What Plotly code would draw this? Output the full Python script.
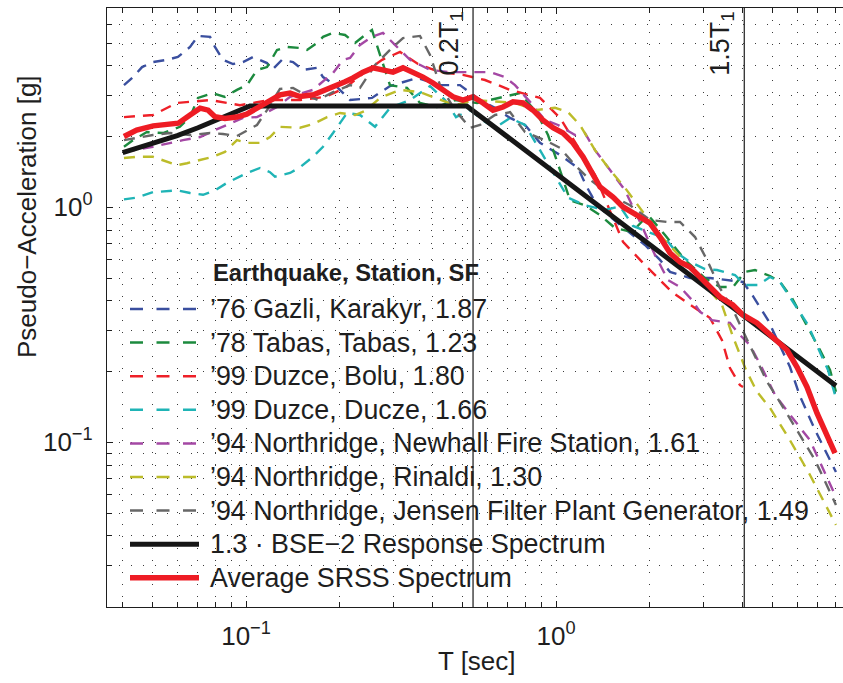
import math
import plotly.graph_objects as go

# ---- Ground-motion records: period T [s] and pseudo-acceleration [g] ----
gazli_T = [0.0404, 0.0432, 0.0462, 0.0501, 0.0556, 0.0603, 0.0660, 0.0700, 0.0766, 0.0794,
           0.0843, 0.0908, 0.0978, 0.1053, 0.1169, 0.1213, 0.1306, 0.1418, 0.1527, 0.1694,
           0.1772, 0.1937, 0.2166, 0.2549, 0.2914, 0.3561, 0.4224, 0.4901, 0.5687, 0.6356,
           0.7107, 0.7943, 0.888, 1.03, 1.178, 1.249, 1.356, 1.609, 1.937, 2.165,
           2.332, 2.706, 3.139, 3.641, 4.011, 4.320, 4.830, 5.686, 6.124, 6.847, 8.0]
gazli_sa = [3.31, 3.58, 3.95, 4.15, 4.24, 4.36, 4.81, 5.36, 5.31, 4.81,
            4.24, 4.07, 4.15, 4.36, 4.11, 3.84, 4.24, 4.15, 3.84, 3.92,
            3.58, 3.31, 2.86, 2.92, 3.28, 3.55, 3.31, 3.31, 2.86, 2.65,
            2.40, 2.24, 1.88, 1.67, 1.47, 1.24, 1.02, 0.841, 0.691, 0.597,
            0.531, 0.500, 0.500, 0.490, 0.481, 0.419, 0.331, 0.209, 0.157, 0.113, 0.0747]

tabas_T = [0.0404, 0.0432, 0.0479, 0.0540, 0.0612, 0.0660, 0.0700, 0.0782, 0.0855, 0.0935,
           0.1007, 0.1085, 0.1169, 0.1259, 0.1356, 0.1494, 0.1573, 0.1694, 0.1772, 0.1909,
           0.2087, 0.2248, 0.2420, 0.2549, 0.2706, 0.2914, 0.3306, 0.3641, 0.4131, 0.4723,
           0.5562, 0.6597, 0.7655, 0.8684, 0.9423, 1.03, 1.11, 1.24, 1.387, 1.55,
           1.759, 1.981, 2.247, 2.607, 3.024, 3.381, 3.724, 4.071, 4.385, 4.902,
           5.281, 5.771, 6.356, 7.106, 7.655, 8.0]
tabas_sa = [1.81, 1.93, 2.09, 2.07, 2.20, 2.42, 2.92, 3.06, 2.95, 3.16,
            3.31, 3.84, 3.95, 4.67, 4.81, 4.76, 4.67, 5.00, 5.31, 5.52,
            5.41, 5.00, 5.41, 5.68, 4.45, 3.31, 3.22, 2.78, 2.67, 2.86,
            2.78, 2.92, 3.06, 2.52, 2.03, 1.44, 1.07, 1.02, 0.927, 0.816,
            0.785, 0.927, 0.762, 0.597, 0.500, 0.458, 0.458, 0.531, 0.541, 0.510,
            0.481, 0.411, 0.325, 0.247, 0.203, 0.164]

bolu_T = [0.0404, 0.0501, 0.0599, 0.0645, 0.0766, 0.0956, 0.1195, 0.1494, 0.1799, 0.2087,
          0.2420, 0.2747, 0.3139, 0.3588, 0.4224, 0.5012, 0.5902, 0.7107, 0.888, 1.03,
          1.126, 1.336, 1.645, 1.937, 2.367, 2.747, 3.139, 3.431, 3.641, 3.922, 4.011]
bolu_sa = [2.42, 2.47, 2.78, 2.81, 2.86, 2.72, 2.86, 2.86, 2.95, 3.22,
           3.76, 4.24, 4.58, 4.07, 3.76, 3.66, 3.48, 3.16, 2.92, 2.40,
           1.99, 1.37, 0.712, 0.568, 0.436, 0.380, 0.338, 0.272, 0.207, 0.175, 0.172]

ducze_T = [0.0404, 0.0445, 0.0501, 0.0603, 0.0660, 0.0727, 0.0794, 0.0868, 0.1007, 0.111,
           0.1195, 0.124, 0.1387, 0.1494, 0.1645, 0.1772, 0.1909, 0.2118, 0.2332, 0.2607,
           0.2914, 0.3381, 0.3923, 0.4384, 0.4758, 0.528, 0.5902, 0.6356, 0.7107, 0.7943,
           0.888, 0.9563, 1.03, 1.093, 1.24, 1.439, 1.609, 1.772, 1.981, 2.247,
           2.457, 2.706, 3.024, 3.306, 3.779, 4.071, 4.484, 4.902, 5.281, 5.902,
           6.5, 7.001, 7.542, 8.0]
ducze_sa = [1.08, 1.10, 1.16, 1.18, 1.15, 1.13, 1.18, 1.27, 1.40, 1.47,
            1.41, 1.35, 1.40, 1.48, 1.64, 1.81, 2.07, 2.52, 2.47, 2.20,
            2.65, 2.86, 3.28, 2.86, 2.42, 2.59, 2.31, 2.18, 2.40, 2.24,
            1.75, 1.48, 1.24, 1.10, 1.02, 0.974, 1.01, 0.833, 0.785, 0.740,
            0.639, 0.585, 0.546, 0.541, 0.515, 0.467, 0.467, 0.505, 0.481, 0.384,
            0.316, 0.252, 0.203, 0.154]

newhall_T = [0.0404, 0.0501, 0.0626, 0.0711, 0.0794, 0.0888, 0.0978, 0.1085, 0.1169, 0.1259,
             0.1387, 0.1645, 0.1909, 0.2056, 0.2166, 0.2332, 0.2549, 0.2766, 0.3024, 0.3381,
             0.3923, 0.4549, 0.528, 0.6124, 0.6848, 0.7376, 0.8244, 0.9215, 1.015, 1.152,
             1.24, 1.336, 1.494, 1.67, 1.866, 2.086, 2.298, 2.512, 2.747, 2.914,
             3.186, 3.641, 3.922, 4.225, 4.619, 5.088, 5.686, 6.597, 8.0]
newhall_sa = [1.72, 1.81, 1.93, 1.99, 2.13, 2.28, 2.40, 2.42, 2.54, 2.67,
              2.95, 3.16, 3.73, 4.24, 4.32, 4.91, 5.31, 5.52, 4.91, 4.24,
              3.84, 3.76, 3.76, 3.76, 3.58, 3.31, 2.81, 2.35, 2.24, 2.03,
              2.07, 1.75, 1.44, 1.18, 0.866, 0.627, 0.490, 0.458, 0.403, 0.359,
              0.331, 0.322, 0.286, 0.259, 0.207, 0.159, 0.131, 0.102, 0.0585]

rinaldi_T = [0.0404, 0.0445, 0.0501, 0.0569, 0.0599, 0.0645, 0.0711, 0.0782, 0.0855, 0.0935,
             0.1007, 0.111, 0.1195, 0.1287, 0.1494, 0.1645, 0.1826, 0.201, 0.2248, 0.242,
             0.2706, 0.3139, 0.3641, 0.4071, 0.4723, 0.548, 0.6356, 0.7376, 0.8556, 0.9926,
             1.093, 1.195, 1.336, 1.494, 1.67, 1.866, 2.165, 2.607, 3.024, 3.431,
             3.724, 4.101, 4.451, 4.902, 5.686, 6.597, 8.0]
rinaldi_sa = [1.62, 1.64, 1.64, 1.54, 1.51, 1.54, 1.59, 1.64, 1.72, 1.93,
              1.88, 1.88, 1.99, 2.20, 2.18, 2.26, 2.42, 2.52, 2.47, 2.57,
              2.92, 3.16, 3.09, 2.92, 2.72, 2.86, 2.83, 2.78, 2.59, 2.65,
              2.54, 2.24, 1.75, 1.44, 1.21, 0.993, 0.762, 0.585, 0.467, 0.384,
              0.281, 0.203, 0.164, 0.140, 0.102, 0.0726, 0.0445]

jensen_T = [0.0404, 0.0445, 0.0501, 0.0569, 0.066, 0.0766, 0.0843, 0.0935, 0.103, 0.1085,
            0.1169, 0.1287, 0.1418, 0.155, 0.1707, 0.1909, 0.2166, 0.2332, 0.2607, 0.2914,
            0.3209, 0.3641, 0.3923, 0.4224, 0.4723, 0.528, 0.5687, 0.6356, 0.7107, 0.7943,
            0.9215, 1.03, 1.152, 1.287, 1.494, 1.733, 2.011, 2.281, 2.512, 2.809,
            3.069, 3.381, 3.724, 4.071, 4.385, 4.794, 5.281, 6.124, 6.847, 8.0]
jensen_sa = [1.93, 1.97, 2.03, 2.07, 2.03, 2.07, 2.05, 2.01, 2.15, 2.24,
             2.59, 3.19, 3.22, 3.01, 2.86, 3.09, 3.31, 3.22, 4.03, 4.67,
             5.25, 5.36, 4.45, 3.31, 2.59, 2.18, 2.24, 2.47, 2.54, 2.09,
             1.93, 1.79, 1.51, 1.31, 1.13, 1.02, 0.883, 0.866, 0.866, 0.747,
             0.597, 0.453, 0.366, 0.286, 0.231, 0.181, 0.148, 0.107, 0.0841, 0.0541]

# ---- Design spectrum (1.3 x BSE-2) corner/ramp points ----
bse2_T = [0.04, 0.05, 0.06, 0.07, 0.08, 0.09, 0.103, 0.515, 8.0]
bse2_sa = [1.71, 1.87, 2.02, 2.18, 2.34, 2.49, 2.70, 2.70, 0.174]

# ---- Average SRSS spectrum ----
avg_T = [0.0404, 0.0444, 0.0502, 0.0605, 0.066, 0.0711, 0.0755, 0.0794, 0.0855, 0.0933,
         0.1005, 0.111, 0.1195, 0.1287, 0.1387, 0.1494, 0.1649, 0.182, 0.1962, 0.2087,
         0.2214, 0.2384, 0.2568, 0.2766, 0.298, 0.3209, 0.3457, 0.3724, 0.4011, 0.4319,
         0.4653, 0.501, 0.5398, 0.5814, 0.6261, 0.6745, 0.7266, 0.7825, 0.8429, 0.908,
         0.978, 1.053, 1.134, 1.222, 1.287, 1.387, 1.527, 1.645, 1.772, 2.01,
         2.165, 2.332, 2.512, 2.706, 2.914, 3.14, 3.38, 3.72, 4.01, 4.45,
         5.01, 5.56, 5.99, 6.45, 6.95, 7.94]
avg_sa = [2.00, 2.13, 2.22, 2.28, 2.47, 2.64, 2.59, 2.43, 2.39, 2.42,
          2.49, 2.68, 2.86, 3.01, 3.06, 2.96, 3.01, 3.16, 3.31, 3.42,
          3.55, 3.76, 3.92, 3.84, 3.76, 3.92, 3.76, 3.58, 3.38, 3.16,
          2.95, 2.86, 2.95, 2.78, 2.59, 2.67, 2.81, 2.78, 2.59, 2.35,
          2.18, 2.07, 1.88, 1.64, 1.44, 1.22, 1.106, 1.003, 0.946, 0.857,
          0.747, 0.639, 0.585, 0.557, 0.505, 0.458, 0.415, 0.384, 0.348, 0.322,
          0.281, 0.247, 0.209, 0.172, 0.133, 0.090]

record_names = [
    "’76 Gazli, Karakyr, 1.87",
    "’78 Tabas, Tabas, 1.23",
    "’99 Duzce, Bolu, 1.80",
    "’99 Duzce, Ducze, 1.66",
    "’94 Northridge, Newhall Fire Station, 1.61",
    "’94 Northridge, Rinaldi, 1.30",
    "’94 Northridge, Jensen Filter Plant Generator, 1.49",
]
record_colors = ["#3a4f9f", "#1c8a3e", "#ee2028", "#1fb4b6", "#a448a4", "#bcbc2a", "#676767"]
record_T = [gazli_T, tabas_T, bolu_T, ducze_T, newhall_T, rinaldi_T, jensen_T]
record_sa = [gazli_sa, tabas_sa, bolu_sa, ducze_sa, newhall_sa, rinaldi_sa, jensen_sa]

bse2_name = "1.3 · BSE−2 Response Spectrum"
avg_name = "Average SRSS Spectrum"
legend_header = "Earthquake, Station, SF"

T1 = 2.7  # fundamental period [s]
marker_lines = [(0.2, "0.2T<sub>1</sub>"), (1.5, "1.5T<sub>1</sub>")]

x_major = [0.1, 1.0]
x_major_text = ["10<sup>−1</sup>", "10<sup>0</sup>"]
y_major = [0.1, 1.0]
y_major_text = ["10<sup>−1</sup>", "10<sup>0</sup>"]
x_minor = [0.04, 0.05, 0.06, 0.07, 0.08, 0.09, 0.2, 0.3, 0.4, 0.5, 0.6, 0.7, 0.8, 0.9,
           2, 3, 4, 5, 6, 7, 8]
y_minor = [0.02, 0.03, 0.04, 0.05, 0.06, 0.07, 0.08, 0.09, 0.2, 0.3, 0.4, 0.5, 0.6,
           0.7, 0.8, 0.9, 2, 3, 4, 5, 6, 7]

FONT = "Liberation Sans, Arial, Helvetica, sans-serif"
INK = "#1e1e1e"
DASH = "11px,8px"
W, H = 843, 683
ML, MR, MT, MB = 107, 0, 8, 76
PW, PH = W - ML - MR, H - MT - MB


def px_to_paper(px, py):
    """Pixel position inside the figure -> paper coordinates."""
    return (px - ML) / PW, (H - MB - py) / PH


fig = go.Figure()

for name, tt, sa, col in zip(record_names, record_T, record_sa, record_colors):
    fig.add_trace(go.Scatter(x=tt, y=sa, mode="lines", name=name, showlegend=False,
                             line=dict(color=col, width=2.4, dash=DASH)))

fig.add_trace(go.Scatter(x=bse2_T, y=bse2_sa, mode="lines", name=bse2_name,
                         showlegend=False, line=dict(color="#161616", width=5)))
fig.add_trace(go.Scatter(x=avg_T, y=avg_sa, mode="lines", name=avg_name,
                         showlegend=False, line=dict(color="#ee1c24", width=5.5)))

# vertical reference lines at fractions of T1
for frac, label in marker_lines:
    tv = frac * T1
    fig.add_trace(go.Scatter(x=[tv, tv], y=[0.01, 10], mode="lines", showlegend=False,
                             hoverinfo="skip", line=dict(color="#3a3a3a", width=1.4)))
    fig.add_annotation(x=math.log10(tv), xref="x", y=px_to_paper(0, 78)[1], yref="paper",
                       text=label, textangle=-90, showarrow=False,
                       xanchor="right", yanchor="bottom", xshift=-3,
                       font=dict(family=FONT, size=27, color=INK))

# ---- key (drawn inside the axes, without a box) ----
key_rows = list(zip(record_names, record_colors, [DASH] * 7, [2.5] * 7))
key_rows += [(bse2_name, "#161616", "solid", 5), (avg_name, "#ee1c24", "solid", 5.5)]
row0, row_step = 309, 33.6
for i, (name, col, dash, lw) in enumerate(key_rows):
    yy = row0 + i * row_step
    x0, y0 = px_to_paper(130, yy)
    x1, _ = px_to_paper(199, yy)
    key_dash = "13px,13.5px" if dash != "solid" else "solid"
    fig.add_shape(type="line", xref="paper", yref="paper", x0=x0, x1=x1, y0=y0, y1=y0,
                  line=dict(color=col, width=lw, dash=key_dash))
    tx, ty = px_to_paper(208, yy)
    fig.add_annotation(x=tx, y=ty, xref="paper", yref="paper", xanchor="left",
                       yanchor="middle", text=name, showarrow=False,
                       font=dict(family=FONT, size=26.8, color=INK))
hx, hy = px_to_paper(211, 273)
fig.add_annotation(x=hx, y=hy, xref="paper", yref="paper", xanchor="left", yanchor="middle",
                   text=f"<b>{legend_header}</b>", showarrow=False,
                   font=dict(family=FONT, size=23.7, color=INK))

grid_common = dict(gridcolor="#3c3c3c", griddash="1px,11px", gridwidth=1)

fig.update_xaxes(
    type="log", range=[-1.4484, 0.9258],
    tickvals=x_major, ticktext=x_major_text,
    ticks="inside", ticklen=6, tickcolor=INK, tickwidth=1.2,
    showline=True, linecolor=INK, linewidth=1.4, mirror="ticks",
    showgrid=True, **grid_common,
    minor=dict(tickvals=x_minor, ticks="inside", ticklen=5, tickcolor=INK,
               showgrid=True, **grid_common),
    tickfont=dict(family=FONT, size=26, color=INK), ticklabelstandoff=6,
    zeroline=False,
)
fig.update_yaxes(
    type="log", range=[-1.7009, 0.848],
    tickvals=y_major, ticktext=y_major_text,
    ticks="inside", ticklen=6, tickcolor=INK, tickwidth=1.2,
    showline=True, linecolor=INK, linewidth=1.4, mirror=False,
    showgrid=True, **grid_common,
    minor=dict(tickvals=y_minor, ticks="inside", ticklen=5, tickcolor=INK,
               showgrid=True, **grid_common),
    tickfont=dict(family=FONT, size=26, color=INK), ticklabelstandoff=8,
    zeroline=False,
)

tx, ty = px_to_paper(477, 661)
fig.add_annotation(x=tx, xref="paper", y=ty, yref="paper", xanchor="center",
                   yanchor="middle", text="T [sec]", showarrow=False,
                   font=dict(family=FONT, size=26, color=INK))
ax, ay = px_to_paper(27, 217)
fig.add_annotation(x=ax, xref="paper", y=ay, yref="paper", xanchor="center",
                   yanchor="middle", text="Pseudo−Acceleration [g]", textangle=-90,
                   showarrow=False, font=dict(family=FONT, size=26, color=INK))

fig.update_layout(
    width=W, height=H,
    margin=dict(l=ML, r=MR, t=MT, b=MB),
    paper_bgcolor="white", plot_bgcolor="white",
    font=dict(family=FONT, size=25, color=INK),
    showlegend=False,
)

fig.write_html("out.html")
